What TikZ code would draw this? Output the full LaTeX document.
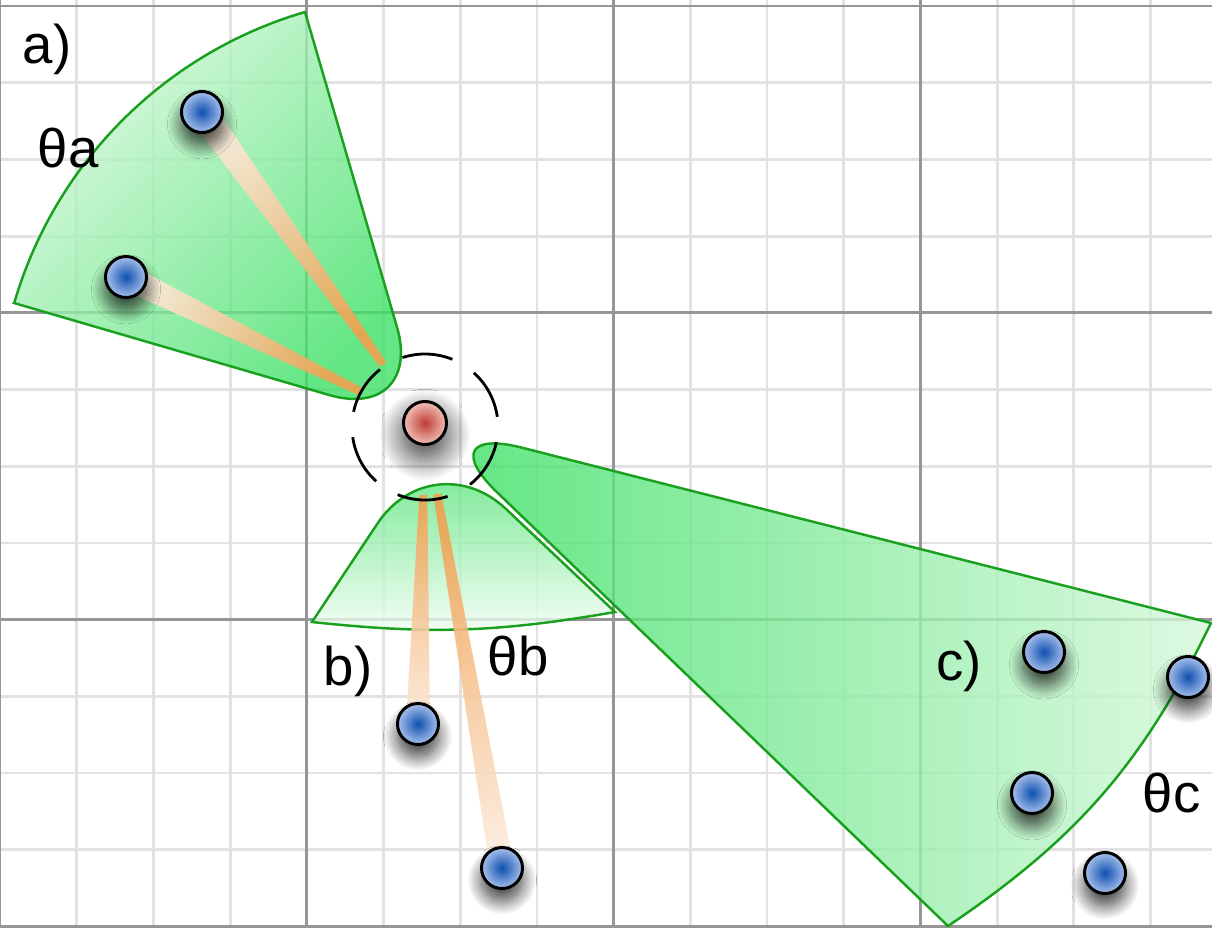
\documentclass[tikz,border=0pt]{standalone}
\usepackage{fontspec}
\setmainfont{Liberation Sans}
\usetikzlibrary{calc,shadows.blur}
\definecolor{gridminor}{RGB}{226,226,226}
\definecolor{gridmajor}{RGB}{150,150,150}
\definecolor{secline}{RGB}{24,160,30}
\definecolor{secdark}{RGB}{60,224,100}
\definecolor{secpale}{RGB}{214,248,219}
\definecolor{rayorange}{RGB}{240,160,80}
\definecolor{raypale}{RGB}{252,234,218}
\definecolor{dotcore}{RGB}{15,80,175}
\definecolor{dotrim}{RGB}{168,192,236}
\definecolor{robotcore}{RGB}{190,60,50}
\definecolor{robotrim}{RGB}{242,192,184}

\tikzset{
  sector/.style={draw=secline, line width=0.7pt, fill opacity=0.8},
  ray/.style={fill opacity=0.9},
  sensor/.style={draw=black, line width=0.8pt},
  landmark/.style={circle, draw=black, line width=0.85pt, minimum size=0.41cm,
    inner sep=0pt, inner color=dotcore, outer color=dotrim,
    blur shadow={shadow xshift=0pt, shadow yshift=-3.5pt, shadow blur radius=4pt,
      shadow blur steps=20, shadow opacity=75}},
  robotdot/.style={circle, draw=black, line width=0.85pt, minimum size=0.43cm,
    inner sep=0pt, inner color=robotcore, outer color=robotrim,
    blur shadow={shadow xshift=0pt, shadow yshift=-3.5pt, shadow blur radius=7pt,
      shadow blur steps=25, shadow opacity=80}},
  lbl/.style={font=\fontsize{15.5}{18}\selectfont, inner sep=0pt, anchor=base west}
}

\begin{document}
\begin{tikzpicture}[x=0.01cm, y=-0.01cm]
\useasboundingbox (0,0) rectangle (1212,927);

% grid
\foreach \i in {0,...,15} \draw[gridminor, line width=0.8pt] (\i*76.7,0) -- (\i*76.7,927);
\foreach \j in {0,...,12} \draw[gridminor, line width=0.8pt] (0,6+\j*76.7) -- (1212,6+\j*76.7);
\foreach \i in {0,4,8,12} \draw[gridmajor, line width=0.85pt] (\i*76.7,0) -- (\i*76.7,927);
\foreach \j in {0,4,8,12} \draw[gridmajor, line width=0.85pt] (0,6+\j*76.7) -- (1212,6+\j*76.7);

\coordinate (rc) at (425,423);
\coordinate (sc) at (425,427);
\coordinate (pa1) at (202,112);
\coordinate (pa2) at (126,277);
\coordinate (pb1) at (418,724);
\coordinate (pb2) at (502,868);
\coordinate (pc1) at (1044,652);
\coordinate (pc2) at (1188,677);
\coordinate (pc3) at (1032,793);
\coordinate (pc4) at (1105,873);

% sector corners
\coordinate (atop) at (305,12);
\coordinate (aleft) at (14,303);
\coordinate (bapex) at (433,440);
\coordinate (bleft) at (312,622);
\coordinate (bright) at (615,612);
\coordinate (ctop) at (1211,623);
\coordinate (cbot) at (948,926);

% sectors, tip rounded by hand
\path[sector, top color=secpale, bottom color=secdark, shading angle=45]
  (aleft) -- ($(rc)!1cm!(aleft)$) .. controls ($(rc)!0.45cm!(aleft)$) and ($(rc)!0.45cm!(atop)$)
  .. ($(rc)!1cm!(atop)$) -- (atop) arc[start angle=-106.3, end angle=-163.7, radius=428] -- cycle;
\path[sector, top color=secdark!85!white, bottom color=secpale!25!white]
  (bleft) -- ($(bapex)!1cm!(bleft)$) .. controls ($(bapex)!0.45cm!(bleft)$) and ($(bapex)!0.45cm!(bright)$)
  .. ($(bapex)!1cm!(bright)$) -- (bright) to[bend left=8] (bleft) -- cycle;
\path[sector, left color=secdark, right color=secpale]
  (cbot) -- ($(rc)!1cm!(cbot)$) .. controls ($(rc)!0.45cm!(cbot)$) and ($(rc)!0.45cm!(ctop)$)
  .. ($(rc)!1cm!(ctop)$) -- (ctop) to[bend left=15] (cbot) -- cycle;

% rays from the sensor ring to the landmarks
\foreach \d/\ang/\w in {pa1/215.6/0.14cm, pa2/244/0.13cm, pb1/-1.3/0.12cm, pb2/9.8/0.12cm} {
  \coordinate (n) at ($(rc)!0.72cm!(\d)$);
  \path[ray, top color=rayorange, bottom color=raypale, shading angle=\ang]
    ($(n)!0.04cm!90:(\d)$) -- ($(\d)!\w!-90:(n)$) -- ($(\d)!\w!90:(n)$)
    -- ($(n)!0.04cm!-90:(\d)$) -- cycle;
}

% sensor range
\foreach \a in {-88,-28,...,212}
  \draw[sensor] (sc) ++(\a-20:73) arc[start angle=\a-20, end angle=\a+20, radius=73];

\node[robotdot] (robot) at (rc) {};
\foreach \d in {a1,a2,b1,b2,c1,c2,c3,c4}
  \node[landmark] (\d) at (p\d) {};

\node[lbl] (lab-a) at (22,63) {a)};
\node[lbl] (th-a) at (37,167) {θa};
\node[lbl] (lab-b) at (323,685) {b)};
\node[lbl] (th-b) at (487,675) {θb};
\node[lbl] (lab-c) at (936,680) {c)};
\node[lbl] (th-c) at (1142,812) {θc};
\end{tikzpicture}
\end{document}
